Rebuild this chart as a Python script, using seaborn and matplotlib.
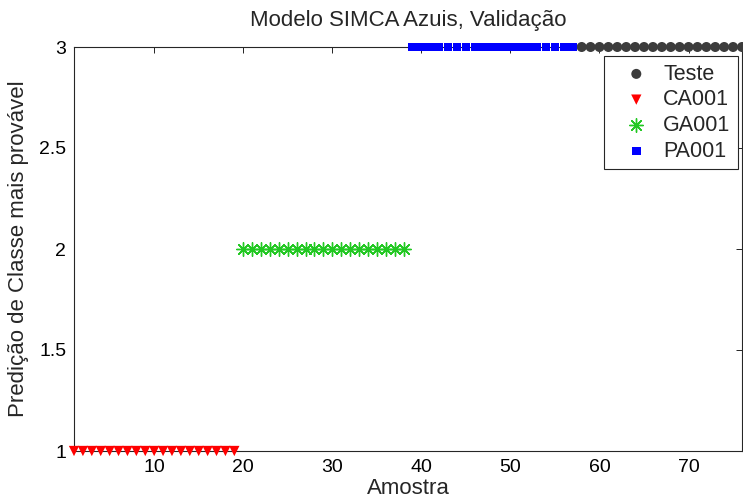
import pandas as pd
import matplotlib
matplotlib.use("Agg")
import matplotlib.pyplot as plt
import seaborn as sns

# ----------------------------------------------------------
# Data: predicted class for each sample
# ----------------------------------------------------------
amostra_teste = [58, 59, 60, 61, 62, 63, 64, 65, 66, 67, 68, 69, 70, 71, 72, 73, 74, 75, 76]
pred_teste = [3, 3, 3, 3, 3, 3, 3, 3, 3, 3, 3, 3, 3, 3, 3, 3, 3, 3, 3]

amostra_ca = [1, 2, 3, 4, 5, 6, 7, 8, 9, 10, 11, 12, 13, 14, 15, 16, 17, 18, 19]
pred_ca = [1, 1, 1, 1, 1, 1, 1, 1, 1, 1, 1, 1, 1, 1, 1, 1, 1, 1, 1]

amostra_ga = [20, 21, 22, 23, 24, 25, 26, 27, 28, 29, 30, 31, 32, 33, 34, 35, 36, 37, 38]
pred_ga = [2, 2, 2, 2, 2, 2, 2, 2, 2, 2, 2, 2, 2, 2, 2, 2, 2, 2, 2]

amostra_pa = [39, 40, 41, 42, 43, 44, 45, 46, 47, 48, 49, 50, 51, 52, 53, 54, 55, 56, 57]
pred_pa = [3, 3, 3, 3, 3, 3, 3, 3, 3, 3, 3, 3, 3, 3, 3, 3, 3, 3, 3]

x_ticks = [10, 20, 30, 40, 50, 60, 70]
y_ticks = [1, 1.5, 2, 2.5, 3]
y_tick_labels = ["1", "1.5", "2", "2.5", "3"]

sns.set_style("white")
plt.rcParams["font.family"] = ["Liberation Sans", "DejaVu Sans"]

# ----------------------------------------------------------
# Figure and axes (MATLAB-like box)
# ----------------------------------------------------------
fig = plt.figure(figsize=(7.43, 5.04), dpi=100)
ax = fig.add_axes([74 / 743, 1 - 451 / 504, 668 / 743, (451 - 47) / 504])

series = [
    ("Teste", amostra_teste, pred_teste, "#3c3c3c", "o", 52, 0),
    ("CA001", amostra_ca, pred_ca, "#ff0000", "v", 55, 0),
    ("GA001", amostra_ga, pred_ga, "#22c822", (8, 2, 0), 95, 1.0),
    ("PA001", amostra_pa, pred_pa, "#0000ff", "s", 38, 0),
]

for nome, xs, ys, cor, marc, tam, lw in series:
    df = pd.DataFrame({"Amostra": xs, "Classe": ys})
    if lw > 0:
        sns.scatterplot(data=df, x="Amostra", y="Classe", ax=ax, marker=marc,
                        s=tam, color=cor, linewidth=lw, label=nome, clip_on=False, zorder=3)
    else:
        sns.scatterplot(data=df, x="Amostra", y="Classe", ax=ax, marker=marc,
                        s=tam, color=cor, edgecolor="none", linewidth=0, label=nome,
                        clip_on=False, zorder=3)

ax.set_xlim(1, 76)
ax.set_ylim(1, 3)
ax.set_xticks(x_ticks)
ax.set_yticks(y_ticks)
ax.set_yticklabels(y_tick_labels)

for s in ax.spines.values():
    s.set_visible(True)
    s.set_color("#262626")
    s.set_linewidth(0.8)

ax.tick_params(direction="in", top=True, right=True, length=4, width=0.6,
               pad=5.5, labelsize=14, colors="black")

ax.set_title("Modelo SIMCA Azuis, Validação", fontsize=16, pad=15)
ax.set_xlabel("Amostra", fontsize=16, labelpad=2)
ax.set_ylabel("Predição de Classe mais provável", fontsize=16)
ax.yaxis.set_label_coords(-0.067, 0.5)

leg = ax.legend(loc="upper right", bbox_to_anchor=(738 / 743, 1 - 56 / 504),
                bbox_transform=fig.transFigure, borderaxespad=0, fancybox=False,
                framealpha=1, edgecolor="#262626", fontsize=15.5, labelspacing=0.22,
                handletextpad=0.1, borderpad=0.35, handlelength=2.3)
leg.get_frame().set_linewidth(0.8)

fig.savefig("out.png", dpi=100)
